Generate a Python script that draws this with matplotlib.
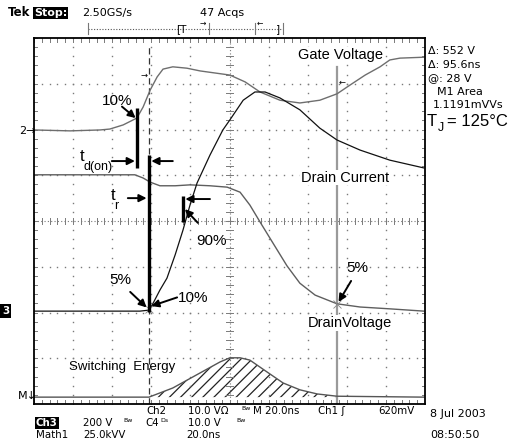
import numpy as np
import matplotlib
matplotlib.use("Agg")
import matplotlib.pyplot as plt

# ---------------- data (graticule divisions: x 0..10, y 0..8) ----------------
gate_x = [0, 0.92, 1.69, 1.94, 2.28, 2.63, 2.79, 2.97, 3.15, 3.30, 3.55, 3.91, 4.25,
          5.01, 5.40, 5.78, 6.29, 6.80, 7.31, 7.75, 8.08, 8.47, 8.85, 9.10, 9.36, 9.97]
gate_y = [5.99, 5.97, 5.99, 6.01, 6.10, 6.25, 6.49, 6.86, 7.15, 7.32, 7.37, 7.34, 7.28,
          7.19, 7.04, 6.82, 6.64, 6.58, 6.64, 6.78, 6.97, 7.19, 7.37, 7.52, 7.56, 7.58]

id_x = [0, 2.71, 2.92, 3.02, 3.22, 3.40, 3.61, 3.81, 3.99, 4.17, 4.50, 4.83, 5.01,
        5.35, 5.65, 5.91, 6.29, 6.80, 7.31, 7.75, 8.34, 9.10, 9.97]
id_y = [2.03, 2.03, 2.05, 2.16, 2.49, 2.75, 3.26, 3.80, 4.35, 4.83, 5.44, 5.99, 6.21,
        6.64, 6.82, 6.82, 6.69, 6.43, 6.03, 5.77, 5.55, 5.33, 5.16]

vd_x = [0, 2.58, 2.79, 2.97, 3.22, 3.61, 3.99, 4.50, 4.94, 5.27, 5.52, 5.78, 6.11,
        6.47, 6.80, 7.19, 7.75, 8.34, 9.10, 9.97]
vd_y = [5.01, 5.01, 4.94, 4.85, 4.77, 4.77, 4.79, 4.77, 4.74, 4.63, 4.35, 3.98, 3.52,
        3.02, 2.64, 2.38, 2.19, 2.12, 2.08, 2.03]

math_x = [0, 2.94, 3.55, 4.25, 4.76, 5.01, 5.27, 5.52, 5.96, 6.37, 6.80, 7.24, 7.75, 9.97]
math_y = [0.15, 0.15, 0.35, 0.68, 0.92, 1.01, 1.01, 0.96, 0.70, 0.46, 0.31, 0.22, 0.17, 0.15]
math_base = 0.15

cursor_dashed = 2.94
cursor_solid = 7.75

# ---------------- figure ----------------
W, H = 525, 445
fig = plt.figure(figsize=(W / 100, H / 100), dpi=100)
fig.patch.set_facecolor("white")
plt.rcParams["hatch.linewidth"] = 0.9

L, T, R, B = 34, 38, 425, 404
ax = fig.add_axes([L / W, 1 - B / H, (R - L) / W, (B - T) / H])
ax.set_xlim(0, 10)
ax.set_ylim(0, 8)
ax.set_xticks([])
ax.set_yticks([])
for s in ax.spines.values():
    s.set_linewidth(1.3)
    s.set_color("black")

gcol = "#7a7a7a"
# dotted graticule
ys = np.arange(0, 8.001, 0.2)
xs = np.arange(0, 10.001, 0.2)
for i in range(1, 10):
    if i == 5:
        continue
    ax.plot([i] * len(ys), ys, ls="none", marker="s", ms=1.0, mew=0, color=gcol)
for j in range(1, 8):
    if j == 4:
        continue
    ax.plot(xs, [j] * len(xs), ls="none", marker="s", ms=1.0, mew=0, color=gcol)
# centre lines with minor ticks
ax.plot(xs, [4] * len(xs), ls=(0, (1, 2)), lw=0.8, color=gcol)
ax.plot([5] * len(ys), ys, ls=(0, (1, 2)), lw=0.8, color=gcol)
for x in xs:
    ax.plot([x, x], [3.93, 4.07], lw=0.7, color=gcol)
    ax.plot([x, x], [8, 7.91], lw=0.7, color=gcol)
    ax.plot([x, x], [0, 0.09], lw=0.7, color=gcol)
for y in ys:
    ax.plot([4.92, 5.08], [y, y], lw=0.7, color=gcol)
    ax.plot([0, 0.08], [y, y], lw=0.7, color=gcol)
    ax.plot([10, 9.92], [y, y], lw=0.7, color=gcol)

# cursors
ax.plot([cursor_dashed, cursor_dashed], [0, 7.85], ls=(0, (5, 3)), lw=0.9, color="#333333")
ax.plot([cursor_solid, cursor_solid], [0, 7.37], lw=1.6, color="#9a9a9a")

# traces
ax.plot(gate_x, gate_y, lw=1.0, color="#6e6e6e")
ax.plot(vd_x, vd_y, lw=1.0, color="#5e5e5e")
ax.plot(id_x, id_y, lw=0.9, color="#111111")
mx = np.array(math_x)
ax.fill_between(mx, math_y, math_base, where=(mx >= cursor_dashed) & (mx <= cursor_solid),
                facecolor="none", edgecolor="#222222", hatch="///", lw=0)
ax.plot(math_x, math_y, lw=1.0, color="#555555")

# 5% markers
ax.plot([cursor_dashed, cursor_solid], [2.07, 2.19], ls="none", marker="x", ms=6,
        mew=0.6, color="#888888")

# thick measurement bars
ax.plot([2.63, 2.63], [5.16, 6.47], lw=2.4, color="black", solid_capstyle="butt")
ax.plot([2.94, 2.94], [2.01, 5.44], lw=2.4, color="black", solid_capstyle="butt")
ax.plot([3.81, 3.81], [3.98, 4.55], lw=2.4, color="black", solid_capstyle="butt")

hf = "Liberation Sans"
ap = dict(arrowstyle="-|>", lw=1.4, color="black", mutation_scale=11, shrinkA=0, shrinkB=0)


def arrow(x0, y0, x1, y1):
    ax.annotate("", xy=(x1, y1), xytext=(x0, y0), arrowprops=ap)


ax.text(2.12, 6.62, "10%", family=hf, fontsize=11, ha="center", va="center")
arrow(2.25, 6.50, 2.60, 6.25)
ax.text(1.18, 5.42, "t", family=hf, fontsize=12, ha="left", va="center")
ax.text(1.27, 5.19, "d(on)", family=hf, fontsize=9, ha="left", va="center")
arrow(1.99, 5.31, 2.58, 5.31)
arrow(3.55, 5.31, 3.00, 5.31)
ax.text(1.97, 4.55, "t", family=hf, fontsize=12, ha="left", va="center")
ax.text(2.06, 4.33, "r", family=hf, fontsize=9, ha="left", va="center")
arrow(2.40, 4.50, 2.88, 4.50)
arrow(4.50, 4.48, 3.87, 4.48)
arrow(4.19, 3.96, 3.86, 4.26)
ax.text(4.55, 3.56, "90%", family=hf, fontsize=11, ha="center", va="center")
ax.text(2.20, 2.72, "5%", family=hf, fontsize=11, ha="center", va="center")
arrow(2.46, 2.45, 2.88, 2.11)
ax.text(4.06, 2.32, "10%", family=hf, fontsize=11, ha="center", va="center")
arrow(3.66, 2.33, 3.00, 2.14)
ax.text(8.27, 2.97, "5%", family=hf, fontsize=11, ha="center", va="center")
arrow(8.11, 2.69, 7.79, 2.23)

wb = dict(facecolor="white", edgecolor="none", pad=0.6)
ax.text(7.95, 4.95, "Drain Current", family=hf, fontsize=10.5, ha="center", va="center", bbox=wb)
ax.text(8.08, 1.77, "DrainVoltage", family=hf, fontsize=10.5, ha="center", va="center", bbox=wb)
ax.text(7.83, 7.63, "Gate Voltage", family=hf, fontsize=10.5, ha="center", va="center", bbox=wb)
ax.text(2.25, 0.81, "Switching  Energy", family=hf, fontsize=9.5, ha="center", va="center")

# small cursor arrows
ax.text(2.82, 7.18, "→", fontsize=6, ha="center", va="center")
ax.text(7.87, 7.03, "←", fontsize=6, ha="center", va="center")

# ---------------- overlay for outside texts ----------------
ov = fig.add_axes([0, 0, 1, 1])
ov.set_xlim(0, W)
ov.set_ylim(H, 0)
ov.axis("off")
sf = "DejaVu Sans"
fs = 8.0


def t(x, y, s, **kw):
    d = dict(family=sf, fontsize=fs, ha="left", va="center")
    d.update(kw)
    ov.text(x, y, s, **d)


blk = dict(facecolor="black", edgecolor="none", pad=0.8)
blk2 = dict(facecolor="black", edgecolor="none", pad=0.6)
t(8, 13, "Tek", fontweight="bold", fontsize=8.5)
t(34, 13, "Stop:", fontweight="bold", color="white", bbox=blk)
t(82, 13, "2.50GS/s")
t(200, 13, "47 Acqs")
ov.plot([88, 283], [28.5, 28.5], ls=(0, (1, 1.5)), lw=0.8, color="#555555")
for xx in [88, 209, 255, 283]:
    ov.plot([xx, xx], [23, 34], lw=0.8, color="#777777")
t(176, 29, "[T", fontsize=7.5)
t(276, 29, "]", fontsize=7.5)
t(200, 23, "→", fontsize=5.5)
t(257, 23, "←", fontsize=5.5)

t(19, 131, "2→", fontsize=8)
t(2, 311, "3", color="white", fontsize=7.5, fontweight="bold",
  bbox=dict(facecolor="black", edgecolor="none", pad=1.6))
t(18, 396, "M↓", fontsize=8)

t(428, 51, "Δ: 552 V")
t(428, 65, "Δ: 95.6ns")
t(428, 78, "@: 28 V")
t(437, 92, "M1 Area")
t(433, 105, "1.1191mVVs")
t(427, 121, "T", family=hf, fontsize=12)
t(438, 128, "J", family=hf, fontsize=9)
t(447, 121, "= 125°C", family=hf, fontsize=12)

bf = 7.4
t(146, 411, "Ch2", fontsize=bf)
t(188, 411, "10.0 VΩ", fontsize=bf)
t(241, 409, "Bw", fontsize=4.5)
t(253, 411, "M 20.0ns", fontsize=bf)
t(318, 411, "Ch1 ʃ", fontsize=bf)
t(378, 411, "620mV", fontsize=bf)
t(430, 414, "8 Jul 2003")
t(36, 423, "Ch3", color="white", fontweight="bold", bbox=blk2, fontsize=bf)
t(83, 423, "200 V", fontsize=bf)
t(123, 421, "Bw", fontsize=4.5)
t(145, 423, "C4", fontsize=bf)
t(160, 420, "Ds", fontsize=4.5)
t(188, 423, "10.0 V", fontsize=bf)
t(236, 421, "Bw", fontsize=4.5)
t(36, 434.5, "Math1", fontsize=bf)
t(83, 434.5, "25.0kVV", fontsize=bf)
t(186, 434.5, "20.0ns", fontsize=bf)
t(430, 435, "08:50:50")

fig.savefig("out.png", dpi=100, facecolor="white")
